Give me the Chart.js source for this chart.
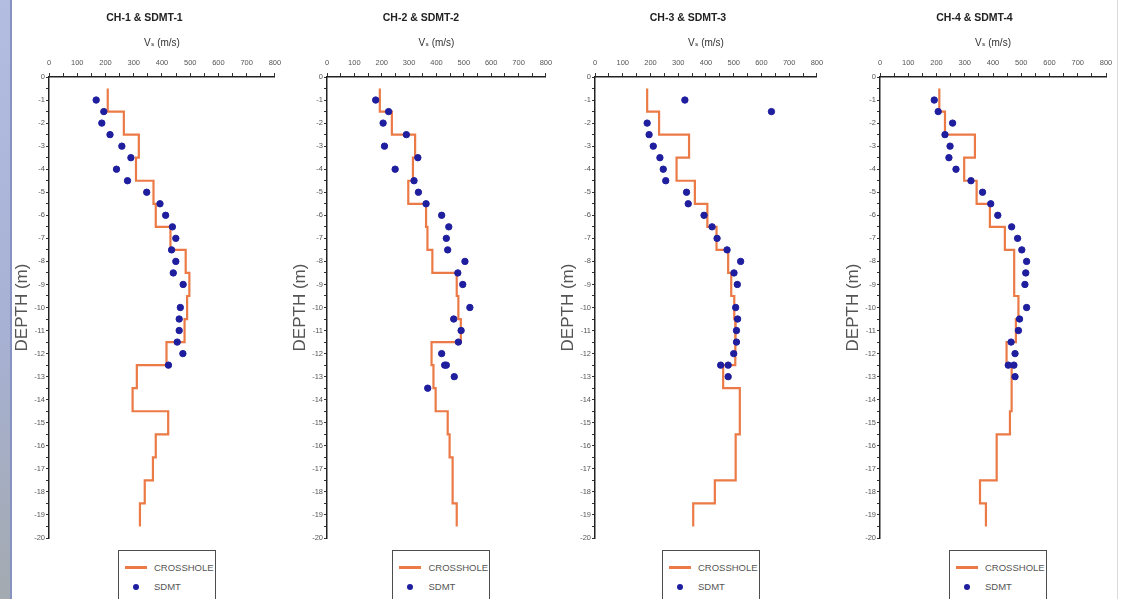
<!DOCTYPE html>
<html>
<head>
<meta charset="utf-8">
<title>Crosshole vs SDMT</title>
<script src="https://cdn.jsdelivr.net/npm/chart.js@4.4.0/dist/chart.umd.min.js"></script>
<style>
  html, body {
    margin: 0;
    padding: 0;
    width: 1121px;
    height: 599px;
    overflow: hidden;
    background: #fff;
    position: relative;
    font-family: 'Liberation Sans', Arial, sans-serif;
  }
  .frame-left {
    position: absolute; left: 0; top: 0; width: 10px; height: 599px;
    background: linear-gradient(to bottom, #b3bde2, #a7b1d4 55%, #a3aab0);
    border-right: 2px solid #8592c2;
  }
  .frame-right {
    position: absolute; left: 1117px; top: 0; width: 1px; height: 599px;
    background: #dadada;
  }
  canvas { position: absolute; top: 0; }
  .legend-box {
    position: absolute;
    top: 550px;
    width: 98px;
    height: 60px;
    border: 1.5px solid #4d4d4d;
    background: #fff;
    padding-top: 7px;
    box-sizing: border-box;
  }
  .legend-row {
    height: 19px;
    display: flex;
    align-items: center;
    font-size: 9.5px;
    color: #555;
  }
  .swatch-line { display: inline-block; width: 22px; height: 2.5px; margin: 0 7px 0 6px; }
  .swatch-dot { display: inline-block; width: 6px; height: 6px; border-radius: 50%; margin: 0 15px 0 14px; }
</style>
</head>
<body>
<div class="frame-left"></div>
<div class="frame-right"></div>
<canvas id="panel1" width="275" height="546"></canvas>
<canvas id="panel2" width="268" height="546"></canvas>
<canvas id="panel3" width="271" height="546"></canvas>
<canvas id="panel4" width="276" height="546"></canvas>
<script>
// Crosshole vs SDMT shear wave velocity profiles

const panelTitles = ['CH-1 & SDMT-1', 'CH-2 & SDMT-2', 'CH-3 & SDMT-3', 'CH-4 & SDMT-4'];
const seriesLabels = ['CROSSHOLE', 'SDMT'];
const vsRange = [0, 800];
const depthRange = [-20, 0];

// Crosshole: layer boundaries (m) and layer velocity (m/s)
const ch1Depths = [-0.5, -1.5, -2.5, -3.5, -4.5, -5.5, -6.5, -7.5, -8.5, -9.5, -10.5, -11.5, -12.5, -13.5, -14.5, -15.5, -16.5, -17.5, -18.5, -19.5];
const ch1Vs = [208, 265, 318, 308, 370, 378, 430, 484, 497, 489, 480, 416, 311, 296, 422, 378, 368, 339, 322];

const ch2Depths = [-0.5, -1.5, -2.5, -3.5, -4.5, -5.5, -6.5, -7.5, -8.5, -9.5, -10.5, -11.5, -12.5, -13.5, -14.5, -15.5, -16.5, -17.5, -18.5, -19.5];
const ch2Vs = [193, 237, 322, 314, 297, 362, 367, 385, 474, 480, 489, 382, 389, 397, 441, 448, 459, 459, 474];

const ch3Depths = [-0.5, -1.5, -2.5, -3.5, -4.5, -5.5, -6.5, -7.5, -8.5, -9.5, -10.5, -11.5, -12.5, -13.5, -14.5, -15.5, -16.5, -17.5, -18.5, -19.5];
const ch3Vs = [188, 231, 339, 294, 360, 405, 438, 480, 491, 502, 507, 505, 462, 522, 522, 507, 507, 432, 354];

const ch4Depths = [-0.5, -1.5, -2.5, -3.5, -4.5, -5.5, -6.5, -7.5, -9.5, -10.5, -11.5, -12.5, -14.5, -15.5, -17.5, -18.5, -19.5];
const ch4Vs = [210, 230, 336, 298, 342, 389, 442, 475, 490, 481, 448, 466, 460, 413, 354, 375];

// SDMT: test depth (m) and velocity (m/s)
const sdmt1Depths = [-1, -1.5, -2, -2.5, -3, -3.5, -4, -4.5, -5, -5.5, -6, -6.5, -7, -7.5, -8, -8.5, -9, -10, -10.5, -11, -11.5, -12, -12.5];
const sdmt1Vs = [167, 194, 187, 216, 258, 290, 239, 278, 346, 393, 413, 437, 449, 434, 449, 440, 475, 465, 461, 461, 454, 474, 423];

const sdmt2Depths = [-1, -1.5, -2, -2.5, -3, -3.5, -4, -4.5, -5, -5.5, -6, -6.5, -7, -7.5, -8, -8.5, -9, -10, -10.5, -11, -11.5, -12, -12.5, -12.5, -13, -13.5];
const sdmt2Vs = [178, 225, 205, 290, 210, 332, 249, 318, 334, 362, 419, 445, 436, 441, 504, 478, 496, 522, 463, 490, 480, 419, 430, 436, 465, 368];

const sdmt3Depths = [-1, -1.5, -2, -2.5, -3, -3.5, -4, -4.5, -5, -5.5, -6, -6.5, -7, -7.5, -8, -8.5, -9, -10, -10.5, -11, -11.5, -12, -12.5, -12.5, -13];
const sdmt3Vs = [324, 636, 188, 195, 210, 234, 246, 255, 330, 336, 393, 422, 440, 476, 525, 501, 513, 507, 514, 510, 510, 500, 453, 480, 480];

const sdmt4Depths = [-1, -1.5, -2, -2.5, -3, -3.5, -4, -4.5, -5, -5.5, -6, -6.5, -7, -7.5, -8, -8.5, -9, -10, -10.5, -11, -11.5, -12, -12.5, -12.5, -13];
const sdmt4Vs = [192, 206, 257, 230, 248, 244, 269, 322, 363, 392, 417, 466, 487, 502, 519, 516, 513, 519, 494, 490, 464, 478, 454, 474, 478];

// Page placement of each panel canvas
const panelLayout = [
  { id: 'panel1', left: 12, padRight: 10 },
  { id: 'panel2', left: 290, padRight: 6 },
  { id: 'panel3', left: 558, padRight: 11 },
  { id: 'panel4', left: 843, padRight: 13 }
];

const CROSSHOLE_COLOR = '#eb7a46';
const SDMT_COLOR = '#1e1e9e';
const FONT = "'Liberation Sans', 'DejaVu Sans', Arial, sans-serif";

Chart.defaults.font.family = FONT;
Chart.defaults.color = '#555';

// Turn layer boundaries + velocities into step-profile points
function stepPoints(depths, vs) {
  const pts = [];
  vs.forEach((v, i) => {
    pts.push({ x: v, y: depths[i] });
    pts.push({ x: v, y: depths[i + 1] });
  });
  return pts;
}

function pairPoints(depths, vs) {
  return depths.map((d, i) => ({ x: vs[i], y: d }));
}

function renderPanel(index, layers, tests) {
  const layout = panelLayout[index];
  const canvas = document.getElementById(layout.id);
  canvas.style.left = layout.left + 'px';

  const chart = new Chart(canvas, {
    type: 'scatter',
    data: {
      datasets: [
        {
          label: seriesLabels[0],
          data: stepPoints(layers[0], layers[1]),
          showLine: true,
          borderColor: CROSSHOLE_COLOR,
          backgroundColor: CROSSHOLE_COLOR,
          borderWidth: 2.2,
          pointRadius: 0,
          tension: 0,
          order: 1
        },
        {
          label: seriesLabels[1],
          data: pairPoints(tests[0], tests[1]),
          backgroundColor: SDMT_COLOR,
          borderColor: SDMT_COLOR,
          pointRadius: 3.2,
          order: 0
        }
      ]
    },
    options: {
      responsive: false,
      animation: false,
      devicePixelRatio: 1,
      layout: { padding: { left: 0, right: layout.padRight, top: 0, bottom: 8 } },
      plugins: {
        legend: { display: false },
        tooltip: { enabled: false },
        title: {
          display: true,
          text: panelTitles[index],
          color: '#222',
          font: { size: 10.5, weight: 'bold' },
          padding: { top: 12, bottom: 0 }
        }
      },
      scales: {
        x: {
          type: 'linear',
          position: 'top',
          min: vsRange[0],
          max: vsRange[1],
          border: { color: '#222', width: 1.5 },
          grid: { drawOnChartArea: false, tickLength: 4, color: '#333' },
          ticks: {
            stepSize: 50,
            autoSkip: false,
            maxRotation: 0,
            padding: 5.8,
            font: { size: 7.5 },
            color: '#555',
            callback: v => (v % 100 === 0 ? v : '')
          },
          title: {
            display: true,
            text: 'Vₛ (m/s)',
            color: '#333',
            font: { size: 10 },
            padding: { top: 12.9, bottom: 0 }
          },
          afterFit: scale => { scale.height = 52.4; }
        },
        y: {
          type: 'linear',
          min: depthRange[0],
          max: depthRange[1],
          border: { color: '#222', width: 1.5 },
          grid: { drawOnChartArea: false, tickLength: 3, color: '#333' },
          ticks: {
            stepSize: 0.5,
            autoSkip: false,
            padding: 1,
            font: { size: 7.5 },
            color: '#555',
            callback: v => (Number.isInteger(v) ? v : '')
          },
          title: {
            display: true,
            text: 'DEPTH (m)',
            color: '#555',
            font: { size: 17 },
            padding: { top: 0, bottom: 0 }
          },
          afterFit: scale => { scale.width = 37; }
        }
      }
    }
  });

  renderLegend(chart, layout.left);
}

// Boxed legend under each panel, built from the chart's datasets
function renderLegend(chart, left) {
  const area = chart.chartArea;
  const box = document.createElement('div');
  box.className = 'legend-box';
  box.style.left = (left + (area.left + area.right) / 2 - 44) + 'px';
  box.innerHTML = chart.data.datasets.map(ds => `
    <div class="legend-row">
      ${ds.showLine
        ? `<span class="swatch-line" style="background:${ds.borderColor}"></span>`
        : `<span class="swatch-dot" style="background:${ds.backgroundColor}"></span>`}
      <span>${ds.label}</span>
    </div>`).join('');
  document.body.appendChild(box);
}

renderPanel(0, [ch1Depths, ch1Vs], [sdmt1Depths, sdmt1Vs]);
renderPanel(1, [ch2Depths, ch2Vs], [sdmt2Depths, sdmt2Vs]);
renderPanel(2, [ch3Depths, ch3Vs], [sdmt3Depths, sdmt3Vs]);
renderPanel(3, [ch4Depths, ch4Vs], [sdmt4Depths, sdmt4Vs]);
</script>
</body>
</html>
